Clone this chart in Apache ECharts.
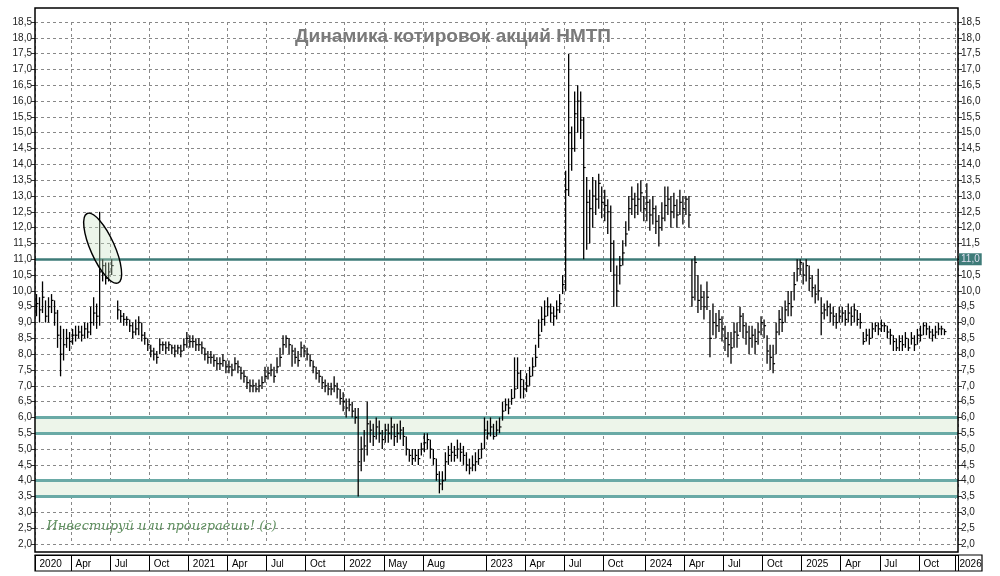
<!DOCTYPE html>
<html><head><meta charset="utf-8">
<script src="https://cdn.jsdelivr.net/npm/echarts@6/dist/echarts.min.js"></script>
<style>html,body{margin:0;padding:0;background:#fff}#c{width:1000px;height:576px}</style>
</head><body><div id="c"></div>
<script>
// Weekly closes / highs / lows, Jan 2020 .. Dec 2025
const c2020=[9.6,9.4,9.8,9.2,9.5,9.7,9.3,8.6,8.0,8.3,8.5,8.4,8.6,8.6,8.7,8.6,8.8,8.7,9.0,9.3,9.2,10.6,10.8,10.4,10.6,10.8,null,9.4,9.2,9.1,9.1,8.9,8.7,8.8,9.0,8.6,8.5,8.3,8.1,8.0,7.9,8.3,8.3,8.2,8.3,8.2,8.1,8.2,8.1,8.3,8.5];
const h2020=[9.9,9.8,10.3,9.7,9.8,9.9,9.7,9.4,8.9,8.8,8.8,8.7,8.8,8.9,8.9,8.9,9.0,9.0,9.5,9.8,9.6,12.5,11.0,10.9,10.9,11.0,null,9.7,9.4,9.3,9.2,9.1,9.0,9.1,9.2,9.0,8.7,8.5,8.3,8.2,8.1,8.5,8.4,8.4,8.4,8.3,8.3,8.3,8.3,8.5,8.7];
const l2020=[9.2,9.0,9.3,9.0,9.0,9.3,8.9,8.2,7.3,7.8,8.2,8.1,8.3,8.4,8.5,8.4,8.5,8.5,8.6,8.9,8.8,8.9,10.3,10.2,10.3,10.5,null,9.1,9.0,8.9,8.9,8.7,8.5,8.6,8.6,8.4,8.3,8.1,7.9,7.8,7.7,8.0,8.1,8.0,8.1,8.0,7.9,8.0,7.9,8.1,8.2];
const c2021=[8.4,8.4,8.3,8.3,8.2,8.0,7.9,7.9,7.8,7.7,7.7,7.8,7.6,7.6,7.5,7.7,7.6,7.4,7.3,7.1,7.0,7.0,6.9,7.0,7.1,7.3,7.4,7.5,7.3,7.6,7.9,8.3,8.5,8.3,8.1,7.9,7.8,8.2,8.1,8.0,7.8,7.6,7.4,7.3,7.1,7.0,6.9,6.9,7.0,6.9,6.6,6.5,6.3];
const h2021=[8.6,8.6,8.5,8.5,8.4,8.2,8.1,8.1,8.0,7.9,7.9,8.0,7.8,7.8,7.7,7.9,7.8,7.6,7.5,7.3,7.2,7.2,7.1,7.2,7.3,7.6,7.6,7.7,7.6,7.9,8.2,8.6,8.6,8.5,8.3,8.2,8.1,8.4,8.3,8.2,8.0,7.8,7.6,7.5,7.3,7.2,7.1,7.1,7.3,7.1,6.9,6.8,6.6];
const l2021=[8.2,8.2,8.1,8.1,8.0,7.8,7.7,7.7,7.6,7.5,7.5,7.6,7.4,7.4,7.3,7.5,7.4,7.2,7.1,6.9,6.8,6.8,6.8,6.8,6.9,7.1,7.2,7.3,7.1,7.4,7.6,8.0,8.2,8.0,7.6,7.7,7.6,7.9,7.9,7.8,7.6,7.4,7.2,7.1,6.9,6.8,6.7,6.7,6.8,6.6,6.4,6.2,6.0];
const c2022=[6.4,6.2,6.0,4.6,5.0,5.1,5.8,5.6,5.4,5.7,5.5,5.3,5.6,5.5,5.7,5.4,5.5,5.6,5.4,5.0,4.8,4.7,4.8,4.7,5.0,5.2,5.3,5.0,4.7,4.2,3.9,4.0,4.6,4.8,4.9,4.8,5.0,4.9,4.8,4.5,4.4,4.5,4.6,4.7,5.0,5.6];
const h2022=[6.6,6.5,6.3,6.3,5.4,5.6,6.5,5.9,5.8,6.0,5.9,5.6,5.8,5.8,6.0,5.8,5.8,5.9,5.7,5.4,5.0,5.0,5.0,5.0,5.2,5.5,5.5,5.3,5.0,4.7,4.3,4.3,4.9,5.1,5.2,5.1,5.3,5.2,5.1,4.9,4.7,4.8,4.9,5.0,5.2,6.0];
const l2022=[6.2,6.0,5.8,3.5,4.3,4.6,4.8,5.2,5.1,5.3,5.2,5.0,5.2,5.2,5.3,5.1,5.2,5.3,5.1,4.8,4.6,4.5,4.6,4.5,4.8,4.9,5.0,4.7,4.5,4.0,3.6,3.7,4.0,4.5,4.6,4.6,4.7,4.6,4.5,4.3,4.2,4.3,4.3,4.5,4.7,5.0];
const c2023=[5.5,5.7,5.4,5.6,5.7,6.2,6.4,6.3,6.6,6.9,7.4,7.2,6.9,7.0,7.3,7.6,7.9,8.6,9.1,9.2,9.5,9.3,9.2,9.4,9.6,10.2,13.2,15.0,14.5,15.6,16.0,15.4,13.9,12.8,12.6,13.0,12.9,13.4,12.8,12.7,12.5,11.5,10.5,10.0,10.8,11.2,11.8,12.6,12.9,12.7,12.9,13.1,12.6];
const h2023=[5.9,6.0,5.8,5.9,6.0,6.5,6.6,6.6,6.9,7.9,7.9,7.5,7.2,7.4,7.6,7.9,8.3,9.1,9.5,9.7,9.8,9.6,9.5,9.7,9.9,10.5,13.8,17.5,15.2,16.3,16.5,16.3,15.5,13.6,13.2,13.6,13.5,13.7,13.3,13.2,12.9,12.7,11.6,10.8,11.1,11.6,12.2,13.0,13.3,13.1,13.4,13.5,13.0];
const l2023=[5.3,5.4,5.3,5.4,5.5,5.9,6.2,6.1,6.4,6.6,6.9,6.6,6.6,6.8,7.0,7.3,7.6,8.2,8.7,8.9,9.2,9.0,8.9,9.1,9.3,9.9,10.0,13.0,13.8,14.4,15.0,14.8,11.0,11.3,11.5,12.0,12.4,12.6,12.3,12.2,11.8,10.6,9.5,9.5,10.2,10.8,11.4,11.9,12.4,12.3,12.4,12.5,12.2];
const c2024=[12.8,12.4,12.6,12.2,12.0,12.3,12.7,12.9,12.5,12.7,12.4,12.8,12.6,12.9,12.4,9.8,10.9,9.7,9.8,9.5,9.8,8.5,9.0,8.9,9.1,8.8,8.5,8.3,8.2,8.7,8.6,9.2,8.9,8.7,8.5,8.6,8.4,8.7,9.0,8.9,8.1,7.9,7.7,8.7,9.1,9.0,9.4,9.6,9.5,10.2,10.7,10.9];
const h2024=[13.4,12.9,13.0,12.7,12.4,12.8,13.3,13.3,13.0,13.1,12.9,13.2,13.0,13.0,13.0,11.0,11.1,10.5,10.2,10.0,10.3,9.4,9.6,9.3,9.4,9.2,8.9,8.7,8.7,9.0,9.0,9.5,9.3,9.0,8.9,8.9,8.8,9.0,9.2,9.1,8.6,8.3,8.3,9.0,9.4,9.5,9.7,10.0,10.0,10.6,11.0,11.0];
const l2024=[12.2,11.9,12.1,11.8,11.4,11.9,12.2,12.4,12.0,12.3,12.0,12.4,12.1,12.4,12.0,9.5,9.7,9.3,9.4,9.1,9.4,7.9,8.6,8.5,8.7,8.4,8.1,7.9,7.7,8.2,8.2,8.7,8.5,8.3,8.0,8.2,8.0,8.3,8.6,8.5,7.7,7.5,7.4,8.0,8.6,8.7,9.0,9.2,9.2,9.7,10.3,10.5];
const c2025=[10.5,10.8,10.4,10.1,9.9,10.0,9.3,9.4,9.5,9.3,9.2,9.0,9.2,9.3,9.1,9.3,9.2,9.4,9.1,9.0,8.4,8.6,8.5,8.8,8.9,8.8,8.9,8.9,8.7,8.6,8.4,8.2,8.4,8.3,8.5,8.2,8.5,8.3,8.6,8.6,8.9,8.8,8.7,8.6,8.7,8.8,8.8,8.715];
const h2025=[10.9,11.0,10.8,10.5,10.2,10.7,9.8,9.6,9.7,9.6,9.5,9.3,9.5,9.5,9.4,9.6,9.5,9.6,9.4,9.3,8.7,8.8,8.8,9.0,9.0,9.0,9.1,9.0,8.9,8.8,8.6,8.5,8.6,8.6,8.7,8.5,8.7,8.6,8.8,8.9,9.0,9.0,8.9,8.8,8.9,9.0,8.9,8.8];
const l2025=[10.2,10.3,10.0,9.8,9.6,9.7,8.6,9.1,9.2,9.0,8.9,8.8,9.0,9.0,8.9,9.0,8.9,9.0,8.9,8.8,8.3,8.4,8.3,8.5,8.7,8.6,8.7,8.7,8.5,8.3,8.1,8.1,8.1,8.1,8.2,8.1,8.3,8.1,8.3,8.4,8.6,8.6,8.5,8.4,8.5,8.6,8.6,8.6];

// x-axis period labels at weekly index
const labelIdx=[0,12,25,38,51,64,77,90,103,116,129,150,163,176,189,203,216,229,242,255,268,281,294,306];
const labelTxt=['2020','Apr','Jul','Oct','2021','Apr','Jul','Oct','2022','May','Aug','2023','Apr','Jul','Oct','2024','Apr','Jul','Oct','2025','Apr','Jul','Oct','2026'];
const levels=[11.0,6.0,5.5,4.0,3.5];
const lastPrice=8.715;
const title='Динамика котировок акций НМТП';
const watermark='Инвестируй или проиграешь! (с)';

const closes=[].concat(c2020,c2021,c2022,c2023,c2024,c2025);
const highs=[].concat(h2020,h2021,h2022,h2023,h2024,h2025);
const lows=[].concat(l2020,l2021,l2022,l2023,l2024,l2025);
const nCat=307;
const cats=[];for(let i=0;i<nCat;i++)cats.push(String(i));
const labelMap={};labelIdx.forEach((k,j)=>labelMap[k]=labelTxt[j]);
const data=[];closes.forEach((c,i)=>{if(c!=null)data.push([i,lows[i],highs[i],c]);});
const isB=(i)=>labelMap[i]!==undefined;

const chart=echarts.init(document.getElementById('c'));
const yCommon={type:'value',min:2,max:18.5,interval:0.5,
  axisLine:{show:false},axisTick:{show:true,length:4,lineStyle:{color:'#333'}},
  axisLabel:{fontSize:10,color:'#222',fontFamily:'Liberation Sans Narrow, Liberation Sans, sans-serif',formatter:v=>v.toFixed(1).replace('.',','),margin:3},
};
chart.setOption({
  animation:false,
  backgroundColor:'#fff',
  grid:{left:35,right:42,top:22,bottom:32},
  title:{text:title,left:290,top:22,textStyle:{fontSize:19,fontWeight:'bold',color:'#7a7a7a',fontFamily:'Liberation Sans Narrow, Liberation Sans'}},
  xAxis:{type:'category',data:cats,boundaryGap:true,offset:11,
    axisLine:{show:true,lineStyle:{color:'#000',width:1}},
    axisTick:{show:true,interval:(i)=>isB(i),length:16,lineStyle:{color:'#000'}},
    axisLabel:{interval:(i)=>isB(i),formatter:(v)=>labelMap[v]||'',fontSize:10,color:'#000',align:'left',margin:4,padding:[0,0,0,3],fontFamily:'Liberation Sans Narrow, sans-serif'},
    splitLine:{show:true,interval:(i)=>isB(i),lineStyle:{color:'#888',type:[3,3],width:1}}
  },
  yAxis:[Object.assign({},yCommon,{position:'right',splitLine:{show:true,lineStyle:{color:'#888',type:[3,3]}}}),
         Object.assign({},yCommon,{position:'left',splitLine:{show:false}})],
  series:[{
    type:'custom',
    data:data,
    encode:{x:0,y:[1,2,3]},
    renderItem:(params,api)=>{
      const x=api.value(0);
      const lo=api.coord([x,api.value(1)]);
      const hi=api.coord([x,api.value(2)]);
      const cl=api.coord([x,api.value(3)]);
      return {type:'group',children:[
        {type:'line',shape:{x1:lo[0],y1:lo[1],x2:hi[0],y2:hi[1]},style:{stroke:'#000',lineWidth:1.3}},
        {type:'line',shape:{x1:cl[0],y1:cl[1],x2:cl[0]+2,y2:cl[1]},style:{stroke:'#000',lineWidth:1.2}}
      ]};
    },
    z:5,
    markArea:{silent:true,itemStyle:{color:'#edf5ea'},data:[[{yAxis:levels[2]},{yAxis:levels[1]}],[{yAxis:levels[4]},{yAxis:levels[3]}]]},
    markLine:{silent:true,symbol:'none',data:[
      {yAxis:levels[0],lineStyle:{color:'#3e7b78',width:2.5,type:'solid'},label:{position:'end',formatter:'11,0',backgroundColor:'#3e7b78',color:'#dde',fontSize:10,padding:[1,2],distance:1}},
      {yAxis:levels[1],lineStyle:{color:'#6aaaa6',width:3,type:'solid'},label:{show:false}},
      {yAxis:levels[2],lineStyle:{color:'#6aaaa6',width:3,type:'solid'},label:{show:false}},
      {yAxis:levels[3],lineStyle:{color:'#6aaaa6',width:3,type:'solid'},label:{show:false}},
      {yAxis:levels[4],lineStyle:{color:'#6aaaa6',width:3,type:'solid'},label:{show:false}},
      {yAxis:lastPrice,lineStyle:{opacity:0},label:{position:'end',formatter:'8,715',backgroundColor:'#fff',borderColor:'#000',borderWidth:1,color:'#000',fontSize:10,padding:[1,2],distance:1}}
    ]}
  }]
});
const ctr=chart.convertToPixel({gridIndex:0},[22,11.35]);
const bl=chart.convertToPixel({gridIndex:0},[0,2]);
chart.setOption({graphic:[
  {type:'ellipse',shape:{cx:0,cy:0,rx:12,ry:38},x:ctr[0],y:ctr[1],rotation:0.42,style:{fill:'rgba(200,225,195,0.35)',stroke:'#000',lineWidth:1.4},z:10},
  {type:'rect',shape:{x:35,y:8,width:923,height:544},style:{fill:'none',stroke:'#000',lineWidth:1.5},z:20},
  {type:'rect',shape:{x:35,y:555,width:947,height:16},style:{fill:'none',stroke:'#000',lineWidth:1.2},z:20},
  {type:'text',x:bl[0]+10,y:bl[1]-24,style:{text:watermark,fill:'#5f8f5f',font:'italic 13px "DejaVu Serif"'},z:10}
]});
</script></body></html>
